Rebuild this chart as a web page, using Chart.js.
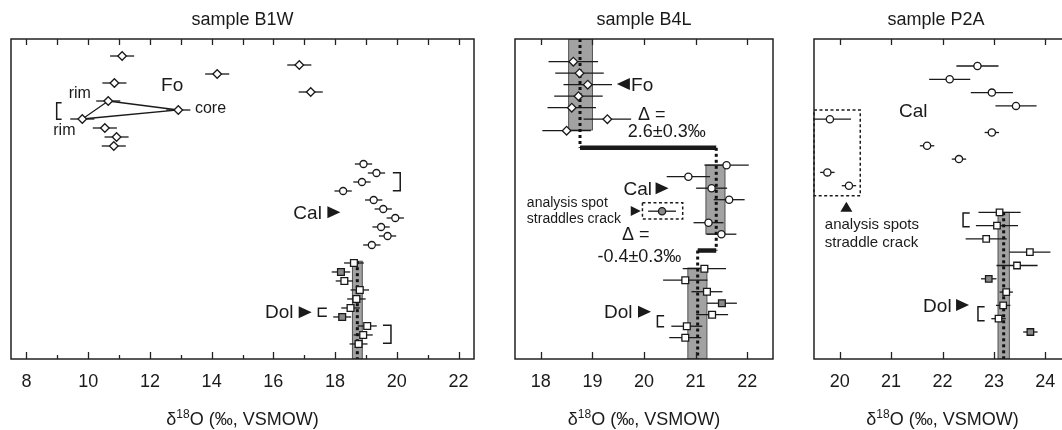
<!DOCTYPE html>
<html>
<head>
<meta charset="utf-8">
<script src="https://cdn.jsdelivr.net/npm/chart.js@4.4.0/dist/chart.umd.min.js"></script>
<style>
    html, body { margin: 0; padding: 0; background: #fff; overflow: hidden; width: 1062px; height: 430px; }
    .panel { position: absolute; top: 0; height: 430px; }
</style>
</head>
<body>
<div class="panel" style="left:0;width:490px"><canvas id="chartB1W"></canvas></div>
<div class="panel" style="left:490px;width:300px"><canvas id="chartB4L"></canvas></div>
<div class="panel" style="left:790px;width:300px"><canvas id="chartP2A"></canvas></div>
<script>
// ---- sample B1W (rows counted from the top of the panel) ----
const b1wFoX = [11.10, 16.84, 14.18, 10.85, 17.21, 10.65, 12.92, 9.81, 10.54, 10.92, 10.83];
const b1wFoRow = [2, 3, 4, 5, 6, 7, 8, 9, 10, 11, 12];
const b1wFoErr = [0.39, 0.39, 0.39, 0.39, 0.39, 0.39, 0.39, 0.39, 0.39, 0.39, 0.39];
const b1wCalX = [18.92, 19.34, 18.87, 18.26, 19.25, 19.56, 19.95, 19.49, 19.70, 19.19];
const b1wCalRow = [14, 15, 16, 17, 18, 19, 20, 21, 22, 23];
const b1wCalErr = [0.28, 0.28, 0.28, 0.28, 0.28, 0.28, 0.28, 0.28, 0.28, 0.28];
const b1wDolX = [18.61, 18.19, 18.30, 18.80, 18.69, 18.50, 18.23, 19.04, 18.91, 18.76];
const b1wDolRow = [25, 26, 27, 28, 29, 30, 31, 32, 33, 34];
const b1wDolErr = [0.32, 0.30, 0.28, 0.30, 0.30, 0.30, 0.29, 0.31, 0.31, 0.29];
const b1wDolDark = [0, 1, 0, 0, 0, 0, 1, 0, 0, 0];
const b1wTicks = [8, 10, 12, 14, 16, 18, 20, 22];
const b1wMinor = [9, 11, 13, 15, 17, 19, 21];

// ---- sample B4L ----
const b4lFoX = [18.63, 18.75, 18.91, 18.73, 18.60, 19.29, 18.50];
const b4lFoRow = [2, 3, 4, 5, 6, 7, 8];
const b4lFoErr = [0.48, 0.47, 0.47, 0.47, 0.47, 0.46, 0.47];
const b4lCalX = [21.60, 20.86, 21.31, 21.65, 20.35, 21.25, 21.50];
const b4lCalRow = [11, 12, 13, 14, 15, 16, 17];
const b4lCalErr = [0.43, 0.42, 0.30, 0.30, 0.27, 0.29, 0.29];
const b4lCalDark = [0, 0, 0, 0, 1, 0, 0];
const b4lDolX = [21.17, 20.80, 21.22, 21.51, 21.32, 20.83, 20.80];
const b4lDolRow = [20, 21, 22, 23, 24, 25, 26];
const b4lDolErr = [0.42, 0.43, 0.30, 0.29, 0.31, 0.30, 0.31];
const b4lDolDark = [0, 0, 0, 1, 0, 0, 0];
const b4lTicks = [18, 19, 20, 21, 22];

// ---- sample P2A ----
const p2aCalX = [22.68, 22.14, 22.96, 23.43, 19.81, 22.96, 21.70, 22.32, 19.76, 20.18];
const p2aCalRow = [2, 3, 4, 5, 6, 7, 8, 9, 10, 11];
const p2aCalErr = [0.41, 0.40, 0.41, 0.40, 0.41, 0.14, 0.14, 0.14, 0.14, 0.14];
const p2aDolX = [23.11, 23.06, 22.85, 23.70, 23.45, 22.90, 23.24, 23.18, 23.09, 23.71];
const p2aDolRow = [13, 14, 15, 16, 17, 18, 19, 20, 21, 22];
const p2aDolErr = [0.41, 0.41, 0.40, 0.40, 0.40, 0.15, 0.13, 0.14, 0.14, 0.14];
const p2aDolDark = [0, 0, 0, 0, 0, 1, 0, 0, 0, 1];
const p2aTicks = [20, 21, 22, 23, 24];

const FONT = '"Liberation Sans", Arial, Helvetica, sans-serif';
const INK = '#1a1a1a';
Chart.defaults.font.family = FONT;
Chart.defaults.color = INK;

function pts(xs, rows) {
    return xs.map((v, i) => ({x: v, y: rows[i]}));
}

function fills(flags) {
    return flags.map(f => f ? '#8a8a8a' : '#fff');
}

function series(xs, rows, errs, style, radius, bg) {
    return {
        data: pts(xs, rows),
        errX: errs,
        pointStyle: style,
        pointRadius: radius,
        pointBackgroundColor: bg || '#fff',
        pointBorderColor: INK,
        pointBorderWidth: 1.3,
        order: 1
    };
}

function tri(ctx, cx, cy, dir, w, h) {
    ctx.beginPath();
    if (dir === 'right') {
        ctx.moveTo(cx - w / 2, cy - h / 2); ctx.lineTo(cx + w / 2, cy); ctx.lineTo(cx - w / 2, cy + h / 2);
    } else if (dir === 'left') {
        ctx.moveTo(cx + w / 2, cy - h / 2); ctx.lineTo(cx - w / 2, cy); ctx.lineTo(cx + w / 2, cy + h / 2);
    } else {
        ctx.moveTo(cx - w / 2, cy + h / 2); ctx.lineTo(cx, cy - h / 2); ctx.lineTo(cx + w / 2, cy + h / 2);
    }
    ctx.closePath();
    ctx.fill();
}

const deco = {
    id: 'deco',
    beforeDatasetsDraw(chart, args, o) {
        const ctx = chart.ctx, a = chart.chartArea, x = chart.scales.x, y = chart.scales.y;
        ctx.save();
        ctx.beginPath();
        ctx.rect(a.left, a.top, a.right - a.left, a.bottom - a.top);
        ctx.clip();

        (o.bands || []).forEach(b => {
            const x0 = x.getPixelForValue(b.x0), x1 = x.getPixelForValue(b.x1);
            const y0 = y.getPixelForValue(b.r0), y1 = y.getPixelForValue(b.r1);
            ctx.fillStyle = '#a2a2a2';
            ctx.fillRect(x0, y0, x1 - x0, y1 - y0);
            ctx.strokeStyle = '#444';
            ctx.lineWidth = 0.9;
            ctx.strokeRect(x0, y0, x1 - x0, y1 - y0);
        });

        ctx.strokeStyle = INK;
        ctx.lineWidth = 1.3;
        chart.data.datasets.forEach(ds => {
            if (!ds.errX) return;
            ds.data.forEach((p, j) => {
                const py = y.getPixelForValue(p.y);
                ctx.beginPath();
                ctx.moveTo(x.getPixelForValue(p.x - ds.errX[j]), py);
                ctx.lineTo(x.getPixelForValue(p.x + ds.errX[j]), py);
                ctx.stroke();
            });
        });

        (o.bars || []).forEach(b => {
            const py = y.getPixelForValue(b.r);
            ctx.lineWidth = 4.5;
            ctx.beginPath();
            ctx.moveTo(x.getPixelForValue(b.x0), py);
            ctx.lineTo(x.getPixelForValue(b.x1), py);
            ctx.stroke();
        });

        ctx.setLineDash([3, 3]);
        ctx.lineWidth = 3;
        ctx.strokeStyle = '#111';
        (o.dots || []).forEach(d => {
            const px = x.getPixelForValue(d.x);
            ctx.beginPath();
            ctx.moveTo(px, y.getPixelForValue(d.r0));
            ctx.lineTo(px, y.getPixelForValue(d.r1));
            ctx.stroke();
        });
        ctx.restore();
    },
    afterDatasetsDraw(chart, args, o) {
        const ctx = chart.ctx, x = chart.scales.x, y = chart.scales.y;
        ctx.save();
        ctx.strokeStyle = INK;
        ctx.fillStyle = INK;

        ctx.setLineDash([3, 2.5]);
        ctx.lineWidth = 1.5;
        (o.boxes || []).forEach(b => {
            const x0 = x.getPixelForValue(b.x0), x1 = x.getPixelForValue(b.x1);
            const y0 = y.getPixelForValue(b.r0), y1 = y.getPixelForValue(b.r1);
            ctx.strokeRect(x0, y0, x1 - x0, y1 - y0);
        });
        ctx.setLineDash([]);

        (o.brackets || []).forEach(b => {
            const px = x.getPixelForValue(b.x), px2 = x.getPixelForValue(b.x2);
            ctx.lineWidth = 1.5;
            ctx.beginPath();
            ctx.moveTo(px2, y.getPixelForValue(b.r0));
            ctx.lineTo(px, y.getPixelForValue(b.r0));
            ctx.lineTo(px, y.getPixelForValue(b.r1));
            ctx.lineTo(px2, y.getPixelForValue(b.r1));
            ctx.stroke();
        });

        (o.tris || []).forEach(t => {
            tri(ctx, x.getPixelForValue(t.x), y.getPixelForValue(t.r), t.dir, t.w || 13, t.h || 12);
        });

        ctx.textBaseline = 'alphabetic';
        (o.texts || []).forEach(t => {
            ctx.font = (t.size || 16) + 'px ' + FONT;
            ctx.textAlign = t.align || 'center';
            ctx.fillText(t.t, x.getPixelForValue(t.x), y.getPixelForValue(t.r));
        });
        ctx.restore();
    },
    afterDraw(chart, args, o) {
        const ctx = chart.ctx, a = chart.chartArea, x = chart.scales.x;
        ctx.save();
        ctx.strokeStyle = '#222';
        ctx.lineWidth = 1.5;
        ctx.strokeRect(a.left, a.top, a.right - a.left, a.bottom - a.top);

        ctx.lineWidth = 1.3;
        const mark = (v, len, top) => {
            const px = Math.round(x.getPixelForValue(v)) + 0.5;
            ctx.beginPath();
            ctx.moveTo(px, a.bottom);
            ctx.lineTo(px, a.bottom - len);
            ctx.moveTo(px, a.top);
            ctx.lineTo(px, a.top + top);
            ctx.stroke();
        };
        (o.major || []).forEach(v => mark(v, 7, 6));
        (o.minor || []).forEach(v => mark(v, 4, 6));

        const cx = (a.left + a.right) / 2;
        ctx.fillStyle = INK;
        ctx.textBaseline = 'alphabetic';
        ctx.textAlign = 'center';
        ctx.font = '18px ' + FONT;
        ctx.fillText(o.title, cx + (o.titleShift || 0), 25);

        const big = '18px ' + FONT, small = '12px ' + FONT;
        ctx.font = big;
        const w1 = ctx.measureText('δ').width, w3 = ctx.measureText('O (‰, VSMOW)').width;
        ctx.font = small;
        const w2 = ctx.measureText('18').width;
        let tx = cx - (w1 + w2 + w3) / 2;
        ctx.textAlign = 'left';
        ctx.font = big;
        ctx.fillText('δ', tx, 425);
        tx += w1;
        ctx.font = small;
        ctx.fillText('18', tx, 418);
        tx += w2;
        ctx.font = big;
        ctx.fillText('O (‰, VSMOW)', tx, 425);
        ctx.restore();
    }
};

function panel(id, cfg) {
    return new Chart(document.getElementById(id), {
        type: 'scatter',
        data: {datasets: cfg.datasets},
        options: {
            responsive: true,
            maintainAspectRatio: false,
            animation: false,
            layout: {padding: {top: 39, left: cfg.padL, right: cfg.padR, bottom: 0}},
            scales: {
                x: {
                    type: 'linear',
                    min: cfg.xMin,
                    max: cfg.xMax,
                    border: {display: false},
                    grid: {display: false, drawTicks: false},
                    ticks: {font: {size: 18}, padding: 12, autoSkip: false, maxRotation: 0, color: INK},
                    afterBuildTicks: s => { s.ticks = cfg.ticks.map(v => ({value: v})); },
                    afterFit: s => { s.height = 71; }
                },
                y: {type: 'linear', display: false, reverse: true, min: cfg.yMin, max: cfg.yMax}
            },
            plugins: {
                legend: {display: false},
                tooltip: {enabled: false},
                deco: cfg.deco
            }
        },
        plugins: [deco]
    });
}

// rim - core - rim tie lines use the Fo points themselves
const rimCore = [5, 6, 7, 5].map(i => ({x: b1wFoX[i], y: b1wFoRow[i]}));

panel('chartB1W', {
    padL: 11, padR: 16, xMin: 7.5, xMax: 22.5, yMin: 0.11, yMax: 35.67,
    ticks: b1wTicks,
    datasets: [
        {data: rimCore, showLine: true, borderColor: INK, borderWidth: 1.3, pointRadius: 0, order: 2},
        series(b1wFoX, b1wFoRow, b1wFoErr, 'rectRot', 4.3),
        series(b1wCalX, b1wCalRow, b1wCalErr, 'circle', 3.5),
        series(b1wDolX, b1wDolRow, b1wDolErr, 'rect', 4.8, fills(b1wDolDark))
    ],
    deco: {
        title: 'sample B1W', major: b1wTicks, minor: b1wMinor,
        bands: [{x0: 18.56, x1: 18.88, r0: 24.8, r1: 35.67}],
        dots: [{x: 18.72, r0: 24.8, r1: 35.67}],
        brackets: [
            {x: 8.98, x2: 9.14, r0: 7.19, r1: 9.04},
            {x: 20.11, x2: 19.87, r0: 14.96, r1: 16.96},
            {x: 17.46, x2: 17.73, r0: 30.04, r1: 30.92},
            {x: 19.81, x2: 19.55, r0: 31.93, r1: 33.93}
        ],
        tris: [
            {x: 17.96, r: 19.37, dir: 'right'},
            {x: 17.03, r: 30.48, dir: 'right'}
        ],
        texts: [
            {t: 'Fo', x: 12.72, r: 5.89, size: 19},
            {t: 'rim', x: 9.73, r: 6.7, size: 16},
            {t: 'rim', x: 9.23, r: 10.78, size: 16},
            {t: 'core', x: 13.46, r: 8.37, size: 16, align: 'left'},
            {t: 'Cal', x: 17.11, r: 20.1, size: 19},
            {t: 'Dol', x: 16.19, r: 31.15, size: 19}
        ]
    }
});

panel('chartB4L', {
    padL: 25, padR: 17, xMin: 17.5, xMax: 22.5, yMin: 0.03, yMax: 27.85,
    ticks: b4lTicks,
    datasets: [
        series(b4lFoX, b4lFoRow, b4lFoErr, 'rectRot', 4.3),
        series(b4lCalX, b4lCalRow, b4lCalErr, 'circle', 3.6, fills(b4lCalDark)),
        series(b4lDolX, b4lDolRow, b4lDolErr, 'rect', 4.8, fills(b4lDolDark))
    ],
    deco: {
        title: 'sample B4L', major: b4lTicks,
        bands: [
            {x0: 18.54, x1: 19.00, r0: 0.03, r1: 7.94},
            {x0: 21.20, x1: 21.57, r0: 10.98, r1: 16.98},
            {x0: 20.85, x1: 21.22, r0: 19.94, r1: 27.85}
        ],
        dots: [
            {x: 18.76, r0: 0.03, r1: 9.49},
            {x: 21.40, r0: 9.49, r1: 18.42},
            {x: 21.04, r0: 18.42, r1: 27.85}
        ],
        bars: [
            {x0: 18.76, x1: 21.40, r: 9.49},
            {x0: 21.04, x1: 21.40, r: 18.42}
        ],
        boxes: [{x0: 19.97, x1: 20.75, r0: 14.26, r1: 15.68}],
        brackets: [{x: 20.26, x2: 20.39, r0: 24.09, r1: 25.04}],
        tris: [
            {x: 19.60, r: 3.94, dir: 'left'},
            {x: 20.35, r: 13.0, dir: 'right'},
            {x: 19.84, r: 14.98, dir: 'right', w: 10, h: 10},
            {x: 20.01, r: 23.74, dir: 'right'}
        ],
        texts: [
            {t: 'Fo', x: 19.75, r: 4.55, size: 19, align: 'left'},
            {t: 'Δ =', x: 20.15, r: 7.07, size: 18},
            {t: '2.6±0.3‰', x: 20.44, r: 8.58, size: 18},
            {t: 'Cal', x: 19.88, r: 13.59, size: 19},
            {t: 'analysis spot', x: 17.73, r: 14.6, size: 14, align: 'left'},
            {t: 'straddles crack', x: 17.73, r: 16.05, size: 14, align: 'left'},
            {t: 'Δ =', x: 19.84, r: 17.5, size: 18},
            {t: '-0.4±0.3‰', x: 19.91, r: 19.39, size: 18},
            {t: 'Dol', x: 19.50, r: 24.31, size: 19}
        ]
    }
});

panel('chartP2A', {
    padL: 24, padR: 19, xMin: 19.5, xMax: 24.5, yMin: -0.03, yMax: 24.03,
    ticks: p2aTicks,
    datasets: [
        series(p2aCalX, p2aCalRow, p2aCalErr, 'circle', 3.6),
        series(p2aDolX, p2aDolRow, p2aDolErr, 'rect', 4.6, fills(p2aDolDark))
    ],
    deco: {
        title: 'sample P2A', titleShift: -6.5, major: p2aTicks,
        bands: [{x0: 23.08, x1: 23.30, r0: 13.0, r1: 24.03}],
        dots: [{x: 23.19, r0: 13.0, r1: 24.03}],
        boxes: [{x0: 19.5, x1: 20.40, r0: 5.31, r1: 11.75}],
        brackets: [
            {x: 22.40, x2: 22.53, r0: 13.05, r1: 14.08},
            {x: 22.69, x2: 22.82, r0: 20.1, r1: 21.15}
        ],
        tris: [
            {x: 20.13, r: 12.58, dir: 'up', w: 12, h: 10},
            {x: 22.39, r: 19.97, dir: 'right'}
        ],
        texts: [
            {t: 'Cal', x: 21.43, r: 5.81, size: 19},
            {t: 'analysis spots', x: 19.71, r: 14.28, size: 15, align: 'left'},
            {t: 'straddle crack', x: 19.71, r: 15.59, size: 15, align: 'left'},
            {t: 'Dol', x: 21.90, r: 20.47, size: 19}
        ]
    }
});
</script>
</body>
</html>
